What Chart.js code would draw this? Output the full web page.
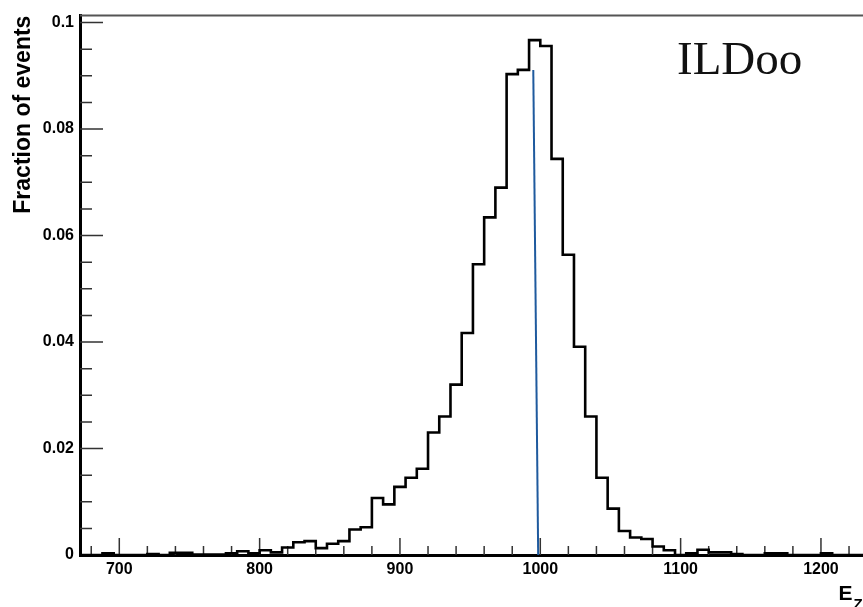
<!DOCTYPE html>
<html>
<head>
<meta charset="utf-8">
<script src="https://cdn.jsdelivr.net/npm/chart.js@4"></script>
<style>
  html, body { margin: 0; padding: 0; background: #fff; overflow: hidden; }
  /* the plot runs on past the right edge, like the cropped original */
  #wrap { width: 960px; height: 607px; }
</style>
</head>
<body>
<div id="wrap"><canvas id="hist"></canvas></div>
<script>
// histogram binning: 8 GeV bins starting at 672
const binStart = 672;
const binWidth = 8;
// fraction of events per bin
const fractions = [
  0, 0, 0, 0.0003, 0, 0, 0, 0.0002, 0, 0.0004,
  0.0004, 0.0001, 0.0001, 0.0001, 0.0003, 0.0007, 0.0003, 0.0009, 0.0005, 0.0014,
  0.0024, 0.0026, 0.0013, 0.0021, 0.0026, 0.0048, 0.0052, 0.0107, 0.0095, 0.0128,
  0.0145, 0.0162, 0.0230, 0.0260, 0.0320, 0.0417, 0.0546, 0.0634, 0.0690, 0.0903,
  0.0911, 0.0967, 0.0956, 0.0744, 0.0564, 0.0391, 0.0260, 0.0145, 0.0087, 0.0045,
  0.0033, 0.0030, 0.0016, 0.0009, 0, 0.0003, 0.0010, 0.0005, 0.0005, 0.0002,
  0, 0, 0.0003, 0.0003, 0, 0, 0, 0.0003, 0, 0,
  0, 0, 0, 0, 0
];
// blue marker line near the peak
const markerX = [995, 998.5];
const markerY = [0.0911, 0];

const xTicks = [700, 800, 900, 1000, 1100, 1200];
const yTicks = [0, 0.02, 0.04, 0.06, 0.08, 0.1];
const xMin = 672, xMax = 1272;
const yMin = 0, yMax = 0.1013;

// step outline: one point per bin edge
const histPoints = fractions.map((v, i) => ({ x: binStart + i * binWidth, y: v }));
histPoints.push({ x: binStart + fractions.length * binWidth, y: fractions[fractions.length - 1] });

const markerPoints = markerX.map((x, i) => ({ x: x, y: markerY[i] }));

// ROOT style inward ticks, top frame, labels
const rootFrame = {
  id: 'rootFrame',
  beforeDatasetsDraw(chart) {
    const { ctx, chartArea, scales: { x, y } } = chart;
    ctx.save();
    ctx.strokeStyle = '#333';
    ctx.lineWidth = 1.5;
    ctx.beginPath();
    for (let i = Math.ceil(xMin / 20); i * 20 <= xMax; i++) {
      const px = x.getPixelForValue(i * 20);
      const len = (i * 20) % 100 === 0 ? 17 : 9;
      ctx.moveTo(px, chartArea.bottom);
      ctx.lineTo(px, chartArea.bottom - len);
    }
    for (let j = 0; j * 0.005 <= 0.1 + 1e-9; j++) {
      const py = y.getPixelForValue(j * 0.005);
      const len = j % 4 === 0 ? 23 : 12;
      ctx.moveTo(chartArea.left, py);
      ctx.lineTo(chartArea.left + len, py);
    }
    ctx.stroke();
    // top and right frame
    ctx.strokeStyle = '#555';
    ctx.lineWidth = 2;
    ctx.beginPath();
    ctx.moveTo(chartArea.left, chartArea.top);
    ctx.lineTo(chartArea.right, chartArea.top);
    ctx.lineTo(chartArea.right, chartArea.bottom);
    ctx.stroke();
    ctx.restore();
  },
  afterDraw(chart) {
    const { ctx, scales: { x } } = chart;
    ctx.save();
    ctx.fillStyle = '#111';
    ctx.font = '47px "Liberation Serif", "DejaVu Serif", serif';
    ctx.textBaseline = 'alphabetic';
    ctx.fillText('ILDoo', 677, 74);
    // axis title E_Z
    const ex = x.getPixelForValue(1212.5);
    ctx.fillStyle = '#000';
    ctx.font = 'bold 21px "Liberation Sans", Arial, sans-serif';
    ctx.fillText('E', ex, 600);
    const ew = ctx.measureText('E').width;
    ctx.font = 'bold 15px "Liberation Sans", Arial, sans-serif';
    ctx.fillText('Z', ex + ew + 1, 609);
    ctx.restore();
  }
};

const tickFont = { family: '"Liberation Sans", Arial, sans-serif', size: 16, weight: 'bold' };

new Chart(document.getElementById('hist'), {
  type: 'line',
  data: {
    datasets: [{
      label: 'hist',
      data: histPoints,
      stepped: 'after',
      borderColor: '#000',
      borderWidth: 2.6,
      pointRadius: 0,
      fill: false,
      clip: false
    }, {
      label: 'marker',
      data: markerPoints,
      borderColor: '#1f5a9e',
      borderWidth: 2,
      pointRadius: 0,
      fill: false
    }]
  },
  options: {
    responsive: true,
    maintainAspectRatio: false,
    animation: false,
    layout: { padding: { left: 0, top: 13, right: 38, bottom: 0 } },
    plugins: { legend: { display: false }, tooltip: { enabled: false } },
    scales: {
      x: {
        type: 'linear',
        min: xMin,
        max: xMax,
        afterBuildTicks: s => { s.ticks = xTicks.map(v => ({ value: v })); },
        afterFit: s => { s.height = 52; },
        grid: { display: false, drawTicks: false },
        border: { display: true, color: '#000', width: 3 },
        ticks: {
          color: '#000', font: tickFont, padding: 5, maxRotation: 0, autoSkip: false,
          callback: v => String(v)
        }
      },
      y: {
        type: 'linear',
        min: yMin,
        max: yMax,
        afterBuildTicks: s => { s.ticks = yTicks.map(v => ({ value: v })); },
        afterFit: s => { s.width = 80; },
        grid: { display: false, drawTicks: false },
        border: { display: true, color: '#000', width: 3 },
        ticks: {
          color: '#000',
          font: tickFont,
          padding: 6,
          callback: v => (v === 0 ? '0' : String(+v.toFixed(2)))
        },
        title: {
          display: true,
          text: 'Fraction of events',
          align: 'end',
          color: '#000',
          font: { family: '"Liberation Sans", Arial, sans-serif', size: 23, weight: 'bold' },
          padding: { top: 10, bottom: 0 }
        }
      }
    }
  },
  plugins: [rootFrame]
});
</script>
</body>
</html>
